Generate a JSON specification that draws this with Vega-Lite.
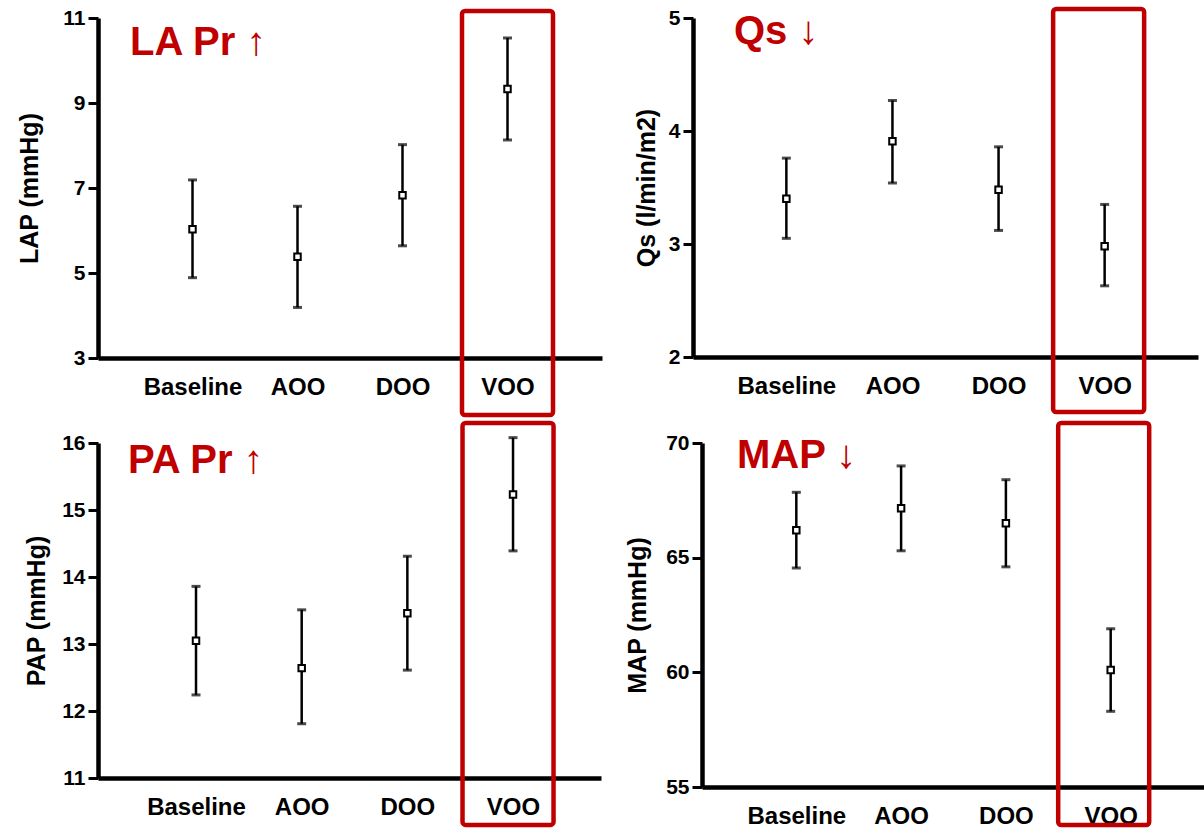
{
  "$schema": "https://vega.github.io/schema/vega-lite/v6.json",
  "background": "white",
  "padding": {"left": 17, "top": 6, "right": 0, "bottom": 0},
  "datasets": {
    "vals": [
      {"measure": "LAP", "condition": "Baseline", "mean": 6.03, "lo": 4.89, "hi": 7.19},
      {"measure": "LAP", "condition": "AOO", "mean": 5.38, "lo": 4.19, "hi": 6.57},
      {"measure": "LAP", "condition": "DOO", "mean": 6.83, "lo": 5.64, "hi": 8.02},
      {"measure": "LAP", "condition": "VOO", "mean": 9.33, "lo": 8.13, "hi": 10.53},
      {"measure": "Qs", "condition": "Baseline", "mean": 3.40, "lo": 3.05, "hi": 3.76},
      {"measure": "Qs", "condition": "AOO", "mean": 3.91, "lo": 3.54, "hi": 4.27},
      {"measure": "Qs", "condition": "DOO", "mean": 3.48, "lo": 3.12, "hi": 3.86},
      {"measure": "Qs", "condition": "VOO", "mean": 2.98, "lo": 2.63, "hi": 3.35},
      {"measure": "PAP", "condition": "Baseline", "mean": 13.05, "lo": 12.24, "hi": 13.86},
      {"measure": "PAP", "condition": "AOO", "mean": 12.64, "lo": 11.81, "hi": 13.51},
      {"measure": "PAP", "condition": "DOO", "mean": 13.46, "lo": 12.61, "hi": 14.31},
      {"measure": "PAP", "condition": "VOO", "mean": 15.23, "lo": 14.39, "hi": 16.08},
      {"measure": "MAP", "condition": "Baseline", "mean": 66.2, "lo": 64.55, "hi": 67.85},
      {"measure": "MAP", "condition": "AOO", "mean": 67.15, "lo": 65.3, "hi": 69.0},
      {"measure": "MAP", "condition": "DOO", "mean": 66.5, "lo": 64.6, "hi": 68.4},
      {"measure": "MAP", "condition": "VOO", "mean": 60.1, "lo": 58.3, "hi": 61.9}
    ]
  },
  "config": {
    "view": {"stroke": null},
    "font": "Liberation Sans",
    "scale": {"nice": false},
    "axis": {
      "domainColor": "black", "domainWidth": 4.5, "grid": false,
      "labelFont": "Liberation Sans", "labelFontWeight": "bold", "labelColor": "black",
      "titleFont": "Liberation Sans", "titleFontWeight": "bold", "titleColor": "black"
    },
    "axisX": {"ticks": false, "labelFontSize": 24, "labelPadding": 17, "labelAngle": 0},
    "axisY": {"tickSize": 10, "tickWidth": 3, "tickColor": "black", "labelFontSize": 21, "labelPadding": 3, "titleFontSize": 25, "format": "d"},
    "title": {"font": "Liberation Sans", "fontWeight": "bold", "fontSize": 40, "color": "#c00000", "anchor": "start", "frame": "group", "baseline": "alphabetic"}
  },
  "spacing": 2,
  "vconcat": [
    {
      "spacing": 32,
      "hconcat": [
        {
          "width": 504, "height": 340,
          "title": {"text": "LA Pr ↑", "dx": 32, "offset": -55.5},
          "data": {"name": "vals"},
          "transform": [{"filter": "datum.measure === 'LAP'"}],
          "encoding": {
            "x": {"field": "condition", "type": "nominal", "scale": {"type": "point", "domain": ["Baseline", "AOO", "DOO", "VOO"], "padding": 0.9}, "axis": {"title": null}}
          },
          "layer": [
            {"transform": [{"filter": "datum.condition === 'VOO'"}],
             "mark": {"type": "bar", "width": 91, "fill": "transparent", "stroke": "#c00000", "strokeWidth": 4.5, "cornerRadius": 3, "clip": false},
             "encoding": {"y": {"datum": 11.165, "type": "quantitative", "scale": {"domain": [3, 11], "nice": false, "zero": false}}, "y2": {"datum": 1.659}}},
            {"mark": {"type": "rule", "color": "black", "strokeWidth": 2.5},
             "encoding": {"y": {"field": "lo", "type": "quantitative", "scale": {"domain": [3, 11], "nice": false, "zero": false}, "axis": {"title": "LAP (mmHg)", "values": [3, 5, 7, 9, 11], "titlePadding": 20}}, "y2": {"field": "hi"}}},
            {"mark": {"type": "tick", "color": "black", "size": 9, "thickness": 3}, "encoding": {"y": {"field": "lo", "type": "quantitative"}}},
            {"mark": {"type": "tick", "color": "black", "size": 9, "thickness": 3}, "encoding": {"y": {"field": "hi", "type": "quantitative"}}},
            {"mark": {"type": "point", "shape": "square", "size": 42, "filled": true, "fill": "white", "stroke": "black", "strokeWidth": 2, "opacity": 1},
             "encoding": {"y": {"field": "mean", "type": "quantitative"}}}
          ]
        },
        {
          "width": 505, "height": 339,
          "title": {"text": "Qs ↓", "dx": 41, "offset": -45},
          "data": {"name": "vals"},
          "transform": [{"filter": "datum.measure === 'Qs'"}],
          "encoding": {
            "x": {"field": "condition", "type": "nominal", "scale": {"type": "point", "domain": ["Baseline", "AOO", "DOO", "VOO"], "padding": 0.88}, "axis": {"title": null}}
          },
          "layer": [
            {"transform": [{"filter": "datum.condition === 'VOO'"}],
             "mark": {"type": "bar", "width": 91, "xOffset": -6, "fill": "transparent", "stroke": "#c00000", "strokeWidth": 4.5, "cornerRadius": 3, "clip": false},
             "encoding": {"y": {"datum": 5.08, "type": "quantitative", "scale": {"domain": [2, 5], "nice": false, "zero": false}}, "y2": {"datum": 1.513}}},
            {"mark": {"type": "rule", "color": "black", "strokeWidth": 2.5},
             "encoding": {"y": {"field": "lo", "type": "quantitative", "scale": {"domain": [2, 5], "nice": false, "zero": false}, "axis": {"title": "Qs (l/min/m2)", "values": [2, 3, 4, 5], "titlePadding": 9}}, "y2": {"field": "hi"}}},
            {"mark": {"type": "tick", "color": "black", "size": 9, "thickness": 3}, "encoding": {"y": {"field": "lo", "type": "quantitative"}}},
            {"mark": {"type": "tick", "color": "black", "size": 9, "thickness": 3}, "encoding": {"y": {"field": "hi", "type": "quantitative"}}},
            {"mark": {"type": "point", "shape": "square", "size": 42, "filled": true, "fill": "white", "stroke": "black", "strokeWidth": 2, "opacity": 1},
             "encoding": {"y": {"field": "mean", "type": "quantitative"}}}
          ]
        }
      ]
    },
    {
      "spacing": 24,
      "hconcat": [
        {
          "width": 503, "height": 335,
          "title": {"text": "PA Pr ↑", "dx": 30, "offset": -60.25},
          "data": {"name": "vals"},
          "transform": [{"filter": "datum.measure === 'PAP'"}],
          "encoding": {
            "x": {"field": "condition", "type": "nominal", "scale": {"type": "point", "domain": ["Baseline", "AOO", "DOO", "VOO"], "padding": 0.88, "align": 0.527}, "axis": {"title": null}}
          },
          "layer": [
            {"transform": [{"filter": "datum.condition === 'VOO'"}],
             "mark": {"type": "bar", "width": 91, "xOffset": -5, "fill": "transparent", "stroke": "#c00000", "strokeWidth": 4.5, "cornerRadius": 3, "clip": false},
             "encoding": {"y": {"datum": 16.299, "type": "quantitative", "scale": {"domain": [11, 16], "nice": false, "zero": false}}, "y2": {"datum": 10.3}}},
            {"mark": {"type": "rule", "color": "black", "strokeWidth": 2.5},
             "encoding": {"y": {"field": "lo", "type": "quantitative", "scale": {"domain": [11, 16], "nice": false, "zero": false}, "axis": {"title": "PAP (mmHg)", "values": [11, 12, 13, 14, 15, 16], "titlePadding": 12}}, "y2": {"field": "hi"}}},
            {"mark": {"type": "tick", "color": "black", "size": 9, "thickness": 3}, "encoding": {"y": {"field": "lo", "type": "quantitative"}}},
            {"mark": {"type": "tick", "color": "black", "size": 9, "thickness": 3}, "encoding": {"y": {"field": "hi", "type": "quantitative"}}},
            {"mark": {"type": "point", "shape": "square", "size": 42, "filled": true, "fill": "white", "stroke": "black", "strokeWidth": 2, "opacity": 1},
             "encoding": {"y": {"field": "mean", "type": "quantitative"}}}
          ]
        },
        {
          "width": 503, "height": 344,
          "title": {"text": "MAP ↓", "dx": 35, "offset": -55.25},
          "data": {"name": "vals"},
          "transform": [{"filter": "datum.measure === 'MAP'"}],
          "encoding": {
            "x": {"field": "condition", "type": "nominal", "scale": {"type": "point", "domain": ["Baseline", "AOO", "DOO", "VOO"], "padding": 0.9}, "axis": {"title": null}}
          },
          "layer": [
            {"transform": [{"filter": "datum.condition === 'VOO'"}],
             "mark": {"type": "bar", "width": 91, "xOffset": -7, "fill": "transparent", "stroke": "#c00000", "strokeWidth": 4.5, "cornerRadius": 3, "clip": false},
             "encoding": {"y": {"datum": 70.872, "type": "quantitative", "scale": {"domain": [55, 70], "nice": false, "zero": false}}, "y2": {"datum": 53.34}}},
            {"mark": {"type": "rule", "color": "black", "strokeWidth": 2.5},
             "encoding": {"y": {"field": "lo", "type": "quantitative", "scale": {"domain": [55, 70], "nice": false, "zero": false}, "axis": {"title": "MAP (mmHg)", "values": [55, 60, 65, 70], "titlePadding": 15}}, "y2": {"field": "hi"}}},
            {"mark": {"type": "tick", "color": "black", "size": 9, "thickness": 3}, "encoding": {"y": {"field": "lo", "type": "quantitative"}}},
            {"mark": {"type": "tick", "color": "black", "size": 9, "thickness": 3}, "encoding": {"y": {"field": "hi", "type": "quantitative"}}},
            {"mark": {"type": "point", "shape": "square", "size": 42, "filled": true, "fill": "white", "stroke": "black", "strokeWidth": 2, "opacity": 1},
             "encoding": {"y": {"field": "mean", "type": "quantitative"}}}
          ]
        }
      ]
    }
  ]
}
